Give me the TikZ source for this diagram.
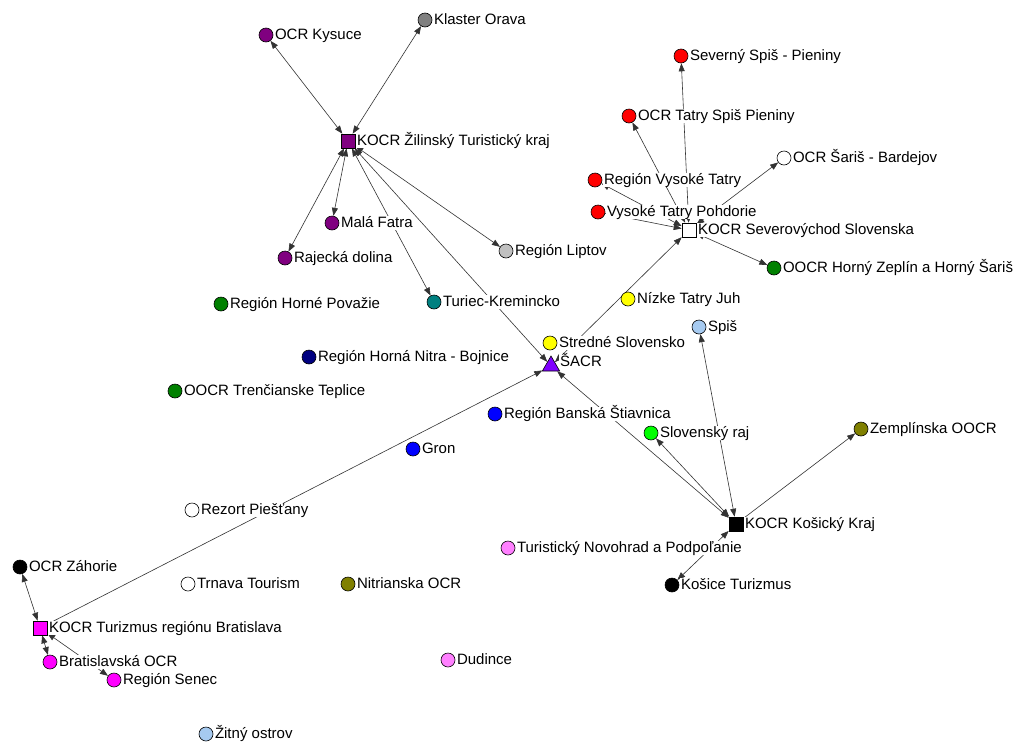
\documentclass[tikz,border=0pt]{standalone}
\usepackage{fontspec}
\setmainfont{Liberation Sans}
\usetikzlibrary{arrows.meta,shapes.geometric}
\pgfdeclarelayer{bg}
\pgfdeclarelayer{edges}
\pgfsetlayers{bg,edges,main}
\definecolor{cPurple}{RGB}{128,0,128}
\definecolor{cGray}{RGB}{128,128,128}
\definecolor{cLGray}{RGB}{192,192,192}
\definecolor{cTeal}{RGB}{0,128,128}
\definecolor{cGreen}{RGB}{0,128,0}
\definecolor{cNavy}{RGB}{0,0,128}
\definecolor{cYellow}{RGB}{255,255,0}
\definecolor{cViolet}{RGB}{128,0,255}
\definecolor{cLBlue}{RGB}{166,202,240}
\definecolor{cBlue}{RGB}{0,0,255}
\definecolor{cLime}{RGB}{0,255,0}
\definecolor{cOlive}{RGB}{128,128,0}
\definecolor{cPink}{RGB}{255,128,255}
\definecolor{cMagenta}{RGB}{255,0,255}
\definecolor{cRed}{RGB}{255,0,0}
\newcommand\cnode[4]{\node[circ,fill=#3] (#1) at (#2) {};\node[lab] (#1-l) at ([xshift=0.5pt]#1.east) {#4};}
\newcommand\snode[4]{\node[sq,fill=#3] (#1) at (#2) {};\node[lab] (#1-l) at ([xshift=0.5pt]#1.east) {#4};}
\begin{document}
\begin{tikzpicture}[x=1pt,y=-1pt,
  circ/.style={circle,draw=black,line width=0.6pt,minimum size=14pt,inner sep=0pt},
  sq/.style={rectangle,draw=black,line width=0.6pt,minimum size=14pt,inner sep=0pt},
  tri/.style={regular polygon,regular polygon sides=3,draw=black,line width=0.6pt,minimum size=20pt,inner sep=0pt},
  lab/.style={anchor=west,fill=white,inner xsep=1pt,inner ysep=0.3pt,text height=11pt,text depth=3pt,font=\fontsize{15}{18}\selectfont},
  lnk/.style={draw=black!80,line width=0.6pt},
  bi/.style={lnk,{Triangle[length=8pt,width=6pt]}-{Triangle[length=8pt,width=6pt]}},
  uni/.style={lnk,-{Triangle[length=8pt,width=6pt]}}]
\begin{pgfonlayer}{bg}
\fill[white] (0,0) rectangle (1024,742);
\end{pgfonlayer}
\useasboundingbox (0,0) rectangle (1024,742);
% Zilina cluster
\cnode{kys}{266,35}{cPurple}{OCR Kysuce}
\cnode{ora}{425,20}{cGray}{Klaster Orava}
\snode{zil}{348,141}{cPurple}{KOCR Žilinský Turistický kraj}
\cnode{mal}{332,223}{cPurple}{Malá Fatra}
\cnode{raj}{285,258}{cPurple}{Rajecká dolina}
\cnode{lip}{506,251}{cLGray}{Región Liptov}
\cnode{tur}{434,302}{cTeal}{Turiec-Kremincko}
\cnode{hpo}{221,304}{cGreen}{Región Horné Považie}
\cnode{hni}{309,357}{cNavy}{Región Horná Nitra - Bojnice}
\cnode{tre}{175,391}{cGreen}{OOCR Trenčianske Teplice}
% center
\cnode{str}{550,343}{cYellow}{Stredné Slovensko}
\node[tri,fill=cViolet] (sacr) at (551,366) {};
\node[lab] (sacr-l) at (559,362) {ŠACR};
\cnode{ntj}{628,299}{cYellow}{Nízke Tatry Juh}
\cnode{spis}{699,327}{cLBlue}{Spiš}
\cnode{bst}{495,414}{cBlue}{Región Banská Štiavnica}
\cnode{gron}{413,449}{cBlue}{Gron}
\cnode{sraj}{651,433}{cLime}{Slovenský raj}
\cnode{zem}{861,429}{cOlive}{Zemplínska OOCR}
\snode{kos}{736,524}{black}{KOCR Košický Kraj}
\cnode{nov}{508,548}{cPink}{Turistický Novohrad a Podpoľanie}
\cnode{kt}{672,585}{black}{Košice Turizmus}
% west
\cnode{pie}{192,510}{white}{Rezort Piešťany}
\cnode{zah}{20,567}{black}{OCR Záhorie}
\cnode{trn}{188,584}{white}{Trnava Tourism}
\cnode{nit}{348,584}{cOlive}{Nitrianska OCR}
\snode{ba}{40,628}{cMagenta}{KOCR Turizmus regiónu Bratislava}
\cnode{bao}{50,662}{cMagenta}{Bratislavská OCR}
\cnode{sen}{114,680}{cMagenta}{Región Senec}
\cnode{dud}{448,660}{cPink}{Dudince}
\cnode{zit}{206,734}{cLBlue}{Žitný ostrov}
% north-east
\cnode{sss}{681,56}{cRed}{Severný Spiš - Pieniny}
\cnode{tsp}{629,116}{cRed}{OCR Tatry Spiš Pieniny}
\cnode{sar}{784,158}{white}{OCR Šariš - Bardejov}
\cnode{rvt}{595,180}{cRed}{Región Vysoké Tatry}
\cnode{pod}{598,212}{cRed}{Vysoké Tatry Pohdorie}
\snode{sev}{689,230}{white}{KOCR Severovýchod Slovenska}
\cnode{hz}{774,268}{cGreen}{OOCR Horný Zeplín a Horný Šariš}
\begin{pgfonlayer}{edges}
\draw[bi] (kys) -- (zil);
\draw[bi] (ora) -- (zil);
\draw[bi] (zil) -- (mal);
\draw[bi] (zil) -- (raj);
\draw[bi] (zil) -- (lip);
\draw[bi] (zil) -- (tur);
\draw[bi] (zil) -- (sacr);
\draw[bi] (sev) -- (sss);
\draw[bi] (sev) -- (tsp);
\draw[bi] (sev) -- (rvt);
\draw[uni] (pod) -- (sev);
\draw[bi] (sev) -- (sar);
\draw[bi] (sev) -- (hz);
\draw[bi] (sev) -- (sacr);
\draw[bi] (kos) -- (sacr);
\draw[bi] (kos) -- (sraj);
\draw[bi] (kos) -- (spis);
\draw[uni] (kos) -- (zem);
\draw[bi] (kos) -- (kt);
\draw[uni] (ba) -- (sacr);
\draw[bi] (ba) -- (zah);
\draw[bi] (ba) -- (bao);
\draw[bi] (ba) -- (sen);
\end{pgfonlayer}
\end{tikzpicture}
\end{document}
